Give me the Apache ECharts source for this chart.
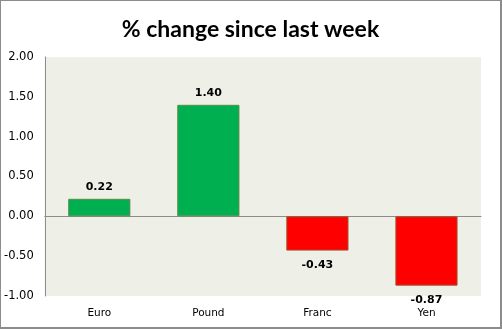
<!DOCTYPE html>
<html><head><meta charset="utf-8">
<script src="https://cdn.jsdelivr.net/npm/echarts@6/dist/echarts.min.js"></script>
<style>html,body{margin:0;padding:0;background:#fff}#c{width:502px;height:329px;box-sizing:border-box;border:1px solid #8c8c8c;border-right-width:2px;border-bottom-width:2px}</style>
</head><body><div id="c"></div>
<script>
const categories = ['Euro', 'Pound', 'Franc', 'Yen'];
const values = [0.22, 1.40, -0.43, -0.87];
const titleText = '% change since last week';

const chart = echarts.init(document.getElementById('c'));
chart.setOption({
  animation: false,
  title: {text: titleText, left: 'center', top: 12,
    textStyle: {fontFamily: 'Lato', fontWeight: 'bold', fontSize: 23, color: '#000'}},
  grid: {left: 41, right: 19, top: 56, bottom: 31, backgroundColor: '#EEF0E8', show: true, borderWidth: 0},
  xAxis: {type: 'category', data: categories,
    axisLine: {onZero: true, lineStyle: {color: '#8c8c8c'}}, axisTick: {show: false},
    axisLabel: {fontFamily: 'DejaVu Sans', fontSize: 10.5, color: '#000', margin: 12}},
  yAxis: {type: 'value', min: -1, max: 2, interval: 0.5,
    axisLine: {show: true, lineStyle: {color: '#8c8c8c'}}, axisTick: {show: false},
    splitLine: {show: false},
    axisLabel: {fontFamily: 'DejaVu Sans', fontSize: 11.5, color: '#000', margin: 11, formatter: v => v.toFixed(2)}},
  series: [{type: 'bar', barWidth: '57%',
    data: values.map(v => ({value: v,
      itemStyle: {color: v >= 0 ? '#00B050' : '#FF0000', borderColor: v >= 0 ? '#5a8a4a' : '#a0522d', borderWidth: 1},
      label: {distance: v >= 0 ? 6 : 9}})),
    label: {show: true, position: 'outside', fontFamily: 'DejaVu Sans', fontWeight: 'bold', fontSize: 11, color: '#000',
      formatter: p => p.value.toFixed(2)}}]
});
</script></body></html>
